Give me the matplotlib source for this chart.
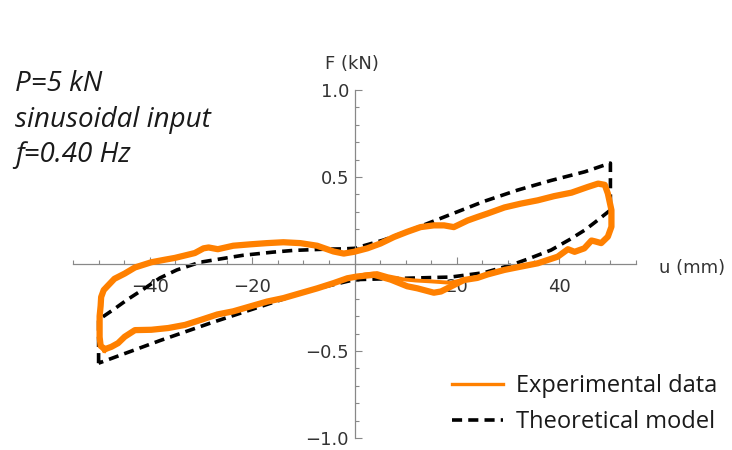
import matplotlib.pyplot as plt
from matplotlib.ticker import FixedLocator, MultipleLocator

# theoretical hysteresis loop (u in mm, F in kN)
theo_u = [-50, -50, -47, -44.5, -41, -38, -34.7, -30.2, -25, -21.8, -16, -12, -6, -2.2, 0,
          5.7, 12.3, 18.8, 25.3, 31.9, 38.4, 45, 50,
          50, 47, 45, 42, 38.4, 34, 30.6, 25.3, 18.8, 12.4, 6, 0,
          -8.6, -18.4, -28.2, -38, -50]
theo_F = [-0.57, -0.32, -0.26, -0.207, -0.14, -0.08, -0.034, 0.01, 0.035, 0.05, 0.068, 0.078, 0.085, 0.087, 0.09,
          0.138, 0.21, 0.285, 0.36, 0.425, 0.48, 0.53, 0.58,
          0.31, 0.24, 0.195, 0.14, 0.08, 0.03, -0.006, -0.05, -0.075, -0.08, -0.085, -0.09,
          -0.15, -0.245, -0.34, -0.44, -0.57]

# experimental data, main cycle
exp_u = [-48.8, -49.6, -49.8, -49.8, -49.8, -49.6, -49.5, -49.0, -48.2, -46.9, -44.9, -42.9,
         -39.7, -37, -35.1, -33, -31.2, -29.5, -28.5, -26.7, -23.7, -20.4, -17.1, -13.9,
         -10.6, -7.3, -4.1, -2.1, -0.1, 2.5, 5.1, 7.7, 10.3, 12.9, 15.5, 17.5, 19.4, 22.1,
         24, 26, 29.3, 32.5, 35.8, 39, 42.4, 45.6, 47.6, 48.9, 49.5, 50.2, 50.2, 49.5,
         48.2, 47, 46.3, 44.9, 43, 41.7, 39.7, 35.8, 32.5, 29.3, 26, 24, 21.4, 18.8,
         16.9, 15.5, 12.3, 10.3, 7.1, 3.8, 0.5, -1.4, -4.1, -7.3, -10.6, -13.9, -17.1,
         -20.4, -23.7, -26.8, -29.9, -33.1, -36.4, -39.7, -42.9, -44.9, -46.2, -47.5, -48.8]
exp_F = [-0.49, -0.47, -0.42, -0.35, -0.30, -0.24, -0.19, -0.15, -0.125, -0.085, -0.055, -0.02,
         0.01, 0.025, 0.035, 0.05, 0.063, 0.09, 0.095, 0.085, 0.105, 0.113, 0.12, 0.125,
         0.12, 0.105, 0.072, 0.06, 0.07, 0.09, 0.118, 0.155, 0.185, 0.212, 0.222, 0.222, 0.212, 0.25,
         0.27, 0.29, 0.325, 0.347, 0.366, 0.39, 0.41, 0.443, 0.462, 0.455, 0.405, 0.31, 0.214, 0.157,
         0.12, 0.13, 0.135, 0.09, 0.07, 0.085, 0.042, 0.004, -0.015, -0.034, -0.06, -0.08, -0.092, -0.13,
         -0.158, -0.165, -0.14, -0.128, -0.09, -0.062, -0.072, -0.082, -0.11, -0.14, -0.168, -0.196, -0.216,
         -0.244, -0.272, -0.29, -0.32, -0.35, -0.368, -0.378, -0.38, -0.418, -0.455, -0.476, -0.49]

# experimental data, second pass through the small lens on the unloading branch
exp2_u = [26, 24, 21.4, 18.8, 15, 12, 9.5, 6.5, 4.4, 2, 0, -2]
exp2_F = [-0.062, -0.075, -0.09, -0.108, -0.1, -0.095, -0.088, -0.07, -0.052, -0.06, -0.075, -0.088]

x_major = [-40, -20, 20, 40]
y_major = [-1.0, -0.5, 0.5, 1.0]

orange = '#ff8000'
axis_grey = '#888888'
label_grey = '#333333'

fig = plt.figure(figsize=(7.32, 4.5), dpi=100)
ax = fig.add_axes([73 / 732, 12 / 450, 563 / 732, 348 / 450])

ax.plot(theo_u, theo_F, color='black', lw=2.6, dashes=(2.8, 1.7), zorder=2,
        label='Theoretical model')
ax.plot(exp_u, exp_F, color=orange, lw=4.5, solid_joinstyle='round', zorder=3,
        label='Experimental data')
ax.plot(exp2_u, exp2_F, color=orange, lw=2.8, solid_joinstyle='round', zorder=3)

ax.set_xlim(-55, 55)
ax.set_ylim(-1, 1)

for s in ['top', 'right']:
    ax.spines[s].set_visible(False)
ax.spines['left'].set_position(('data', 0))
ax.spines['bottom'].set_position(('data', 0))
for s in ['left', 'bottom']:
    ax.spines[s].set_color(axis_grey)
    ax.spines[s].set_linewidth(0.9)

ax.xaxis.set_major_locator(FixedLocator(x_major))
ax.xaxis.set_minor_locator(MultipleLocator(5))
ax.yaxis.set_major_locator(FixedLocator(y_major))
ax.yaxis.set_minor_locator(MultipleLocator(0.1))
ax.set_xticklabels(['\u2212' + str(abs(v)) if v < 0 else str(v) for v in x_major])
ax.set_yticklabels(['\u2212%.1f' % abs(v) if v < 0 else '%.1f' % v for v in y_major])
ax.tick_params(which='both', direction='in', color=axis_grey, width=0.8,
               labelsize=13, labelcolor=label_grey)
ax.tick_params(which='major', length=5)
ax.tick_params(which='minor', length=3)
ax.tick_params(axis='x', which='major', pad=10)
ax.tick_params(axis='y', which='major', pad=4)
for lab in ax.get_xticklabels() + ax.get_yticklabels():
    lab.set_family('DejaVu Sans')
ax.patch.set_alpha(0)

fig.text(352 / 732, 1 - 64 / 450, 'F (kN)', ha='center', va='center',
         fontsize=13, color=label_grey, family='DejaVu Sans')
fig.text(659 / 732, 1 - 268 / 450, 'u (mm)', ha='left', va='center',
         fontsize=13, color=label_grey, family='DejaVu Sans')

notes = ['P=5 kN', 'sinusoidal input', 'f=0.40 Hz']
for i, t in enumerate(notes):
    fig.text(15 / 732, 1 - (91 + 35.5 * i) / 450, t, ha='left', va='baseline',
             fontsize=20, style='italic', family='Open Sans', color='#1a1a1a')

h, l = ax.get_legend_handles_labels()
leg = fig.legend(h[::-1], l[::-1], loc='upper left',
                 bbox_to_anchor=(452 / 732, 1 - 374 / 450),
                 frameon=False, handlelength=2.15, handletextpad=0.55,
                 labelspacing=0.5, borderpad=0, borderaxespad=0,
                 prop={'family': 'Open Sans', 'size': 17})
for t in leg.get_texts():
    t.set_color('#1a1a1a')
leg.legend_handles[0].set_linewidth(2.4)

fig.savefig('out.png', dpi=100)
